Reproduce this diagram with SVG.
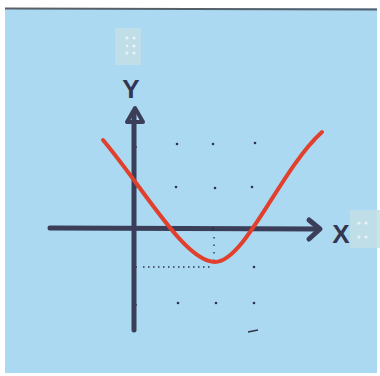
<svg xmlns="http://www.w3.org/2000/svg" width="380" height="376" viewBox="0 0 380 376">
<style>
.axis{stroke:#3b3e58;stroke-width:5;stroke-linecap:round;fill:none}
.tick{stroke:#3b3e58;stroke-width:1.5}
.dot{fill:#2f3448}
.bdot{fill:#e8f3f8}
.braille{fill:#c3dee6;opacity:0.85}
.lbl{font-family:"Liberation Sans",Arial,sans-serif;font-weight:bold;fill:#33364e}
.curve{stroke:#e0402c;stroke-width:4;fill:none;stroke-linecap:round}
</style>
<rect x="0" y="0" width="380" height="376" fill="#ffffff"/>
<rect x="5" y="8" width="372" height="365" fill="#abd9f2"/>
<line x1="5" y1="8.5" x2="377" y2="9.5" stroke="#55606a" stroke-width="2"/>
<g id="braille-y">
<rect class="braille" x="115" y="28" width="26" height="37"/>
<circle class="bdot" cx="127" cy="38" r="1.6"/><circle class="bdot" cx="134" cy="38" r="1.6"/>
<circle class="bdot" cx="134" cy="46" r="1.6"/><circle class="bdot" cx="127" cy="46" r="1.2"/>
<circle class="bdot" cx="127" cy="53" r="1.6"/><circle class="bdot" cx="134" cy="53" r="1.6"/>
</g>
<g id="braille-x">
<rect class="braille" x="350" y="210" width="30" height="38"/>
<circle class="bdot" cx="359" cy="223" r="1.6"/><circle class="bdot" cx="366" cy="223" r="1.6"/>
<circle class="bdot" cx="359" cy="237" r="1.6"/><circle class="bdot" cx="366" cy="237" r="1.6"/>
</g>
<g id="connectors">
<line class="axis" x1="50" y1="228" x2="318" y2="229"/>
<polyline class="axis" points="309,220 320,229 309,239" stroke-linejoin="round"/>
<line class="axis" x1="134" y1="330" x2="134" y2="112"/>
<polygon points="135,108 127,122 143,122" fill="none" stroke="#3b3e58" stroke-width="4" stroke-linejoin="round"/>
</g>
<g id="label-y"><text class="lbl" x="131" y="98" font-size="26" text-anchor="middle">Y</text></g>
<g id="label-x"><text class="lbl" x="341" y="243" font-size="26" text-anchor="middle">X</text></g>
<g id="ticks">
<line class="tick" x1="132" y1="147" x2="137" y2="147"/>
<line class="tick" x1="132" y1="187" x2="137" y2="187"/>
<line class="tick" x1="132" y1="267" x2="137" y2="267"/>
<line class="tick" x1="132" y1="305" x2="137" y2="305"/>
<line x1="248" y1="332" x2="258" y2="330" stroke="#2f3448" stroke-width="1.5"/>
</g>
<g id="grid">
<circle class="dot" cx="177" cy="144" r="1.3"/><circle class="dot" cx="213" cy="144" r="1.3"/><circle class="dot" cx="255" cy="143" r="1.3"/>
<circle class="dot" cx="176" cy="187" r="1.3"/><circle class="dot" cx="215" cy="188" r="1.3"/><circle class="dot" cx="252" cy="187" r="1.3"/>
<circle class="dot" cx="254" cy="267" r="1.3"/>
<circle class="dot" cx="178" cy="303" r="1.3"/><circle class="dot" cx="216" cy="303" r="1.3"/><circle class="dot" cx="254" cy="303" r="1.3"/>
<circle class="dot" cx="213" cy="229" r="1.4"/>
<line x1="143" y1="267" x2="213" y2="267" stroke="#2f3448" stroke-width="1.4" stroke-dasharray="1.5,3.5"/>
<line x1="214" y1="237" x2="214" y2="264" stroke="#2f3448" stroke-width="1.4" stroke-dasharray="1.5,6"/>
</g>
<g id="curve">
<path class="curve" d="M103,140 C145,190 185,262 215,262 C245,262 280,170 322,132"/>
</g>
</svg>
